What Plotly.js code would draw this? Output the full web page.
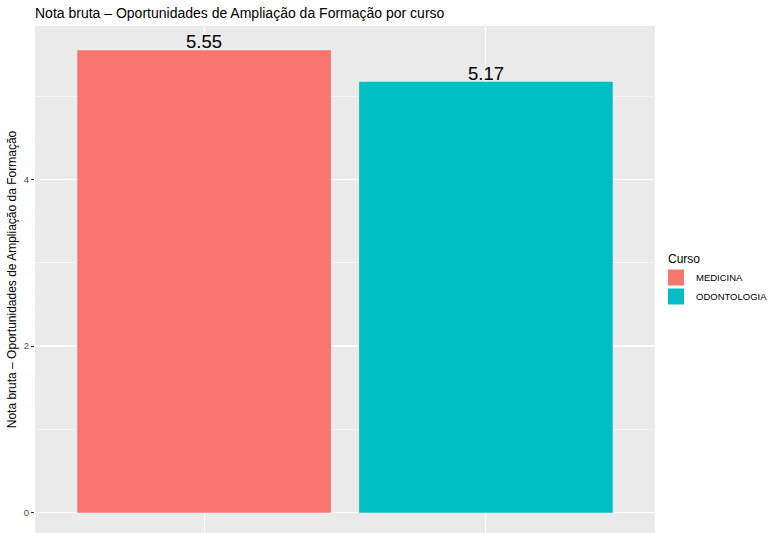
<!DOCTYPE html>
<html>
<head>
<meta charset="utf-8">
<script src="https://cdn.plot.ly/plotly-3.0.1.min.js"></script>
<style>html,body{margin:0;padding:0;background:#fff;}#chart{width:769px;height:533px;}</style>
</head>
<body>
<div id="chart"></div>
<script>
const cursos = ["MEDICINA", "ODONTOLOGIA"];
const notas = [5.55, 5.17];
const cores = ["#F8766D", "#00BFC4"];
const yTicks = [0, 2, 4];

const FONT = "Liberation Sans, Arial, Helvetica, sans-serif";

const traces = [];
cursos.forEach((c, i) => {
  traces.push({
    type: "bar",
    x: [c],
    y: [notas[i]],
    name: c,
    marker: {color: cores[i]},
    width: 0.9,
    showlegend: false,
    hoverinfo: "x+y"
  });
});
cursos.forEach((c, i) => {
  traces.push({
    type: "scatter",
    mode: "markers",
    x: [null],
    y: [null],
    name: c,
    marker: {symbol: "square", size: 16, color: cores[i]},
    showlegend: true
  });
});

const annotations = cursos.map((c, i) => ({
  x: c, y: notas[i], xref: "x", yref: "y",
  text: notas[i].toFixed(2),
  showarrow: false,
  yanchor: "bottom",
  yshift: -4,
  font: {family: FONT, size: 18.5, color: "#000"}
}));

const layout = {
  width: 769, height: 533,
  margin: {l: 35, r: 114, t: 26, b: 0, pad: 0, autoexpand: false},
  paper_bgcolor: "#fff",
  plot_bgcolor: "#EBEBEB",
  font: {family: FONT},
  title: {
    text: "Nota bruta – Oportunidades de Ampliação da Formação por curso",
    font: {family: FONT, size: 14, color: "#000"},
    xref: "paper", x: 0, xanchor: "left",
    yref: "container", y: 1 - 13/533, yanchor: "middle"
  },
  xaxis: {
    type: "category",
    categoryarray: cursos,
    range: [-0.6, 1.6],
    showgrid: true, gridcolor: "#fff", gridwidth: 1.1,
    showticklabels: false, ticks: "",
    zeroline: false, showline: false, fixedrange: true
  },
  yaxis: {
    range: [-0.244, 5.84],
    tickvals: yTicks,
    ticktext: yTicks.map(String),
    ticks: "outside", ticklen: 3, tickwidth: 1, tickcolor: "#333",
    tickfont: {family: FONT, size: 9.6, color: "#4D4D4D"},
    showgrid: true, gridcolor: "#fff", gridwidth: 1.1,
    minor: {dtick: 1, tick0: 0, showgrid: true, gridcolor: "#fff", gridwidth: 0.5, ticks: ""},
    zeroline: false, showline: false,
    title: {text: "Nota bruta – Oportunidades de Ampliação da Formação",
            font: {family: FONT, size: 12, color: "#000"}, standoff: 4},
    fixedrange: true
  },
  bargap: 0.1,
  legend: {
    x: 1.0016, xanchor: "left",
    y: 0.5, yanchor: "middle",
    bgcolor: "rgba(0,0,0,0)",
    title: {text: "\u00a0\u00a0\u00a0Curso", font: {family: FONT, size: 12, color: "#000"}},
    font: {family: FONT, size: 9.5, color: "#000"},
    itemwidth: 30,
    tracegroupgap: 0
  },
  annotations: annotations,
  showlegend: true
};

Plotly.newPlot("chart", traces, layout, {displayModeBar: false, staticPlot: true});
</script>
</body>
</html>
